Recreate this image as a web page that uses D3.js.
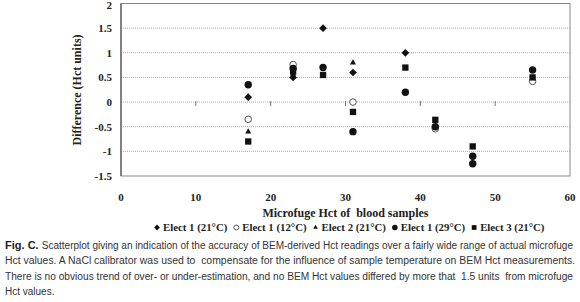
<!DOCTYPE html>
<html>
<head>
<meta charset="utf-8">
<script src="https://cdn.jsdelivr.net/npm/d3@7"></script>
<style>
  body { margin: 0; background: #fff; }
  svg { display: block; }
  .tick-label { font-family: "Liberation Serif", serif; font-weight: bold; font-size: 11px; fill: #222; }
  .axis-title { font-family: "Liberation Serif", serif; font-weight: bold; font-size: 12px; fill: #222; white-space: pre; }
  .legend-text { font-family: "Liberation Serif", serif; font-weight: bold; font-size: 10.8px; fill: #222; }
  .caption { font-family: "Liberation Sans", Arial, sans-serif; font-size: 10px; fill: #333; }
</style>
</head>
<body>
<script>
// Global sizes
const width = 580;
const height = 302;
const plot = { left: 121, right: 570, top: 3.5, bottom: 176 };

// Axis ticks
const xTicks = [0, 10, 20, 30, 40, 50, 60];
const yTicks = [-1.5, -1, -0.5, 0, 0.5, 1, 1.5, 2];

// Series (microfuge Hct, difference)
const elect1_21 = [[17, 0.1], [23, 0.5], [27, 1.5], [31, 0.6], [38, 1.0]];
const elect1_12 = [[17, -0.35], [23, 0.76], [31, 0.0], [42, -0.54], [55, 0.42]];
const elect2_21 = [[17, -0.6], [23, 0.57], [31, 0.8]];
const elect1_29 = [[17, 0.35], [23, 0.68], [27, 0.7], [31, -0.6], [38, 0.2], [42, -0.5], [47, -1.1], [47, -1.25], [55, 0.65]];
const elect3_21 = [[17, -0.8], [23, 0.62], [27, 0.55], [31, -0.2], [38, 0.7], [42, -0.36], [47, -0.9], [55, 0.5]];

const seriesNames = ["Elect 1 (21\u00b0C)", "Elect 1 (12\u00b0C)", "Elect 2 (21\u00b0C)", "Elect 1 (29\u00b0C)", "Elect 3 (21\u00b0C)"];
const seriesData = [elect1_21, elect1_12, elect2_21, elect1_29, elect3_21];
const seriesShapes = ["diamond", "open", "triangle", "circle", "square"];

const captionLines = [
  "Fig. C.|Scatterplot giving an indication of the accuracy of BEM-derived Hct readings over a fairly wide range of actual microfuge",
  "Hct values. A NaCl calibrator was used to  compensate for the influence of sample temperature on BEM Hct measurements.",
  "There is no obvious trend of over- or under-estimation, and no BEM Hct values differed by more that  1.5 units  from microfuge",
  "Hct values."
];

const svg = d3.select("body").append("svg")
    .attr("width", width)
    .attr("height", height);

// Scales
const x = d3.scaleLinear().domain([0, 60]).range([plot.left, plot.right]);
const y = d3.scaleLinear().domain([-1.5, 2]).range([plot.bottom, plot.top]);

// Gridlines (dotted)
svg.append("g")
  .selectAll("line")
  .data(yTicks.filter(d => d > -1.5 && d < 2))
  .enter().append("line")
    .attr("x1", plot.left).attr("x2", plot.right)
    .attr("y1", d => y(d)).attr("y2", d => y(d))
    .attr("stroke", "#aaa")
    .attr("stroke-width", 1)
    .attr("stroke-dasharray", "1,1");

// Plot frame
svg.append("rect")
    .attr("x", plot.left).attr("y", plot.top)
    .attr("width", plot.right - plot.left)
    .attr("height", plot.bottom - plot.top)
    .attr("fill", "none")
    .attr("stroke", "#888")
    .attr("stroke-width", 1);

// Y axis line
svg.append("line")
    .attr("x1", plot.left).attr("x2", plot.left)
    .attr("y1", plot.top).attr("y2", plot.bottom)
    .attr("stroke", "#555").attr("stroke-width", 1.2);

// x tick marks sit on the zero line
svg.append("g")
  .selectAll("line")
  .data(xTicks.filter(d => d > 0 && d < 60))
  .enter().append("line")
    .attr("x1", d => x(d)).attr("x2", d => x(d))
    .attr("y1", y(0) - 1).attr("y2", y(0) + 4)
    .attr("stroke", "#777");

// y tick labels
svg.append("g")
  .selectAll("text")
  .data(yTicks)
  .enter().append("text")
    .attr("class", "tick-label")
    .attr("x", plot.left - 9)
    .attr("y", d => Math.max(y(d) + 4, 9))
    .attr("text-anchor", "end")
    .text(d => d);

// x tick labels at the bottom
svg.append("g")
  .selectAll("text")
  .data(xTicks)
  .enter().append("text")
    .attr("class", "tick-label")
    .attr("x", d => x(d))
    .attr("y", 201)
    .attr("text-anchor", "middle")
    .text(d => d);

// Axis titles
svg.append("text")
    .attr("class", "axis-title")
    .attr("transform", "translate(81,90) rotate(-90)")
    .attr("text-anchor", "middle")
    .text("Difference (Hct units)");

svg.append("text")
    .attr("class", "axis-title")
    .attr("x", (plot.left + plot.right) / 2)
    .attr("y", 217)
    .attr("text-anchor", "middle")
    .text("Microfuge Hct of  blood samples");

// Marker drawing
function drawMarker(g, shape, cx, cy, scale) {
  const k = scale || 1;
  if (shape === "diamond") {
    g.append("path")
      .attr("d", d3.symbol().type(d3.symbolSquare).size(30 * k * k)())
      .attr("transform", `translate(${cx},${cy}) rotate(45)`)
      .attr("fill", "#111");
  } else if (shape === "open") {
    g.append("circle")
      .attr("cx", cx).attr("cy", cy).attr("r", 3.3 * k)
      .attr("fill", "#fff").attr("stroke", "#555").attr("stroke-width", 1);
  } else if (shape === "triangle") {
    g.append("path")
      .attr("d", d3.symbol().type(d3.symbolTriangle).size(16 * k * k)())
      .attr("transform", `translate(${cx},${cy})`)
      .attr("fill", "#111");
  } else if (shape === "circle") {
    g.append("circle")
      .attr("cx", cx).attr("cy", cy).attr("r", 3.7 * k)
      .attr("fill", "#111");
  } else {
    g.append("path")
      .attr("d", d3.symbol().type(d3.symbolSquare).size(40 * k * k)())
      .attr("transform", `translate(${cx},${cy})`)
      .attr("fill", "#111");
  }
}

// Points
const pts = svg.append("g");
seriesData.forEach((data, i) => {
  data.forEach(d => drawMarker(pts, seriesShapes[i], x(d[0]), y(d[1])));
});

// Legend laid out left to right
const legend = svg.append("g");
let lx = 155;
const ly = 231;
seriesNames.forEach((name, i) => {
  drawMarker(legend, seriesShapes[i], lx + 2, ly - 3.5, 0.75);
  const t = legend.append("text")
    .attr("class", "legend-text")
    .attr("x", lx + 8)
    .attr("y", ly)
    .text(name);
  lx += 8 + t.node().getComputedTextLength() + 7;
});

// Caption
const cap = svg.append("g");
const capWidths = [568, 570, 568, 0];
captionLines.forEach((line, i) => {
  const t = cap.append("text")
    .attr("class", "caption")
    .attr("x", 5)
    .attr("y", 249 + i * 15.3)
    .style("white-space", "pre");
  const parts = line.split("|");
  if (parts.length > 1) {
    t.append("tspan").attr("font-weight", "bold").attr("fill", "#222").attr("font-size", "11px").text(parts[0] + " ");
    t.append("tspan").text(parts[1]);
  } else {
    t.text(line);
  }
  if (capWidths[i]) {
    t.attr("textLength", capWidths[i]).attr("lengthAdjust", "spacingAndGlyphs");
  }
});
</script>
</body>
</html>
